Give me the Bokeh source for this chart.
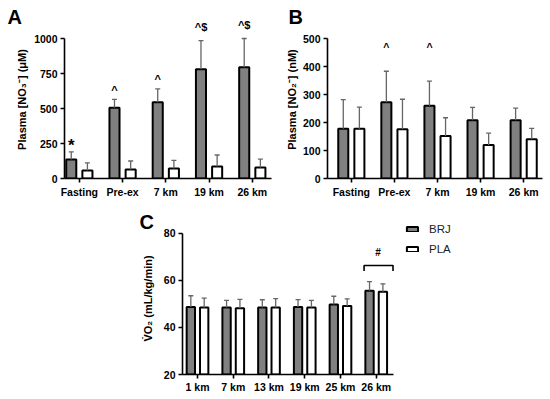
import numpy as np
from bokeh.plotting import figure
from bokeh.models import (ColumnDataSource, Whisker, TeeHead, FixedTicker,
                          Legend, LegendItem, Spacer, Range1d)
from bokeh.layouts import row, column
from bokeh.core.properties import value
from bokeh.embed import file_html
from bokeh.resources import INLINE

# ---------------- data ----------------
a_cats = ["Fasting", "Pre-ex", "7 km", "19 km", "26 km"]
a_brj = [135, 505, 545, 780, 795]
a_brj_sd = [55, 60, 95, 205, 205]
a_pla = [58, 65, 72, 85, 78]
a_pla_sd = [54, 60, 58, 83, 60]
a_sig = ["*", "^", "^", "^$", "^$"]
a_yticks = [0, 250, 500, 750, 1000]

b_cats = ["Fasting", "Pre-ex", "7 km", "19 km", "26 km"]
b_brj = [178, 272, 260, 208, 208]
b_brj_sd = [104, 111, 88, 46, 43]
b_pla = [178, 176, 152, 120, 140]
b_pla_sd = [77, 107, 65, 42, 39]
b_sig = ["", "^", "^", "", ""]
b_sig_level = 468
b_yticks = [0, 100, 200, 300, 400, 500]

c_cats = ["1 km", "7 km", "13 km", "19 km", "25 km", "26 km"]
c_brj = [48.7, 48.5, 48.5, 48.7, 49.8, 55.6]
c_brj_sd = [4.8, 3.0, 3.3, 3.2, 3.5, 3.9]
c_pla = [48.5, 48.2, 48.5, 48.5, 49.2, 55.2]
c_pla_sd = [4.0, 3.8, 3.8, 3.0, 3.0, 3.4]
c_sig_cat = 5
c_sig_text = "#"
c_yticks = [20, 40, 60, 80]

series_names = ["BRJ", "PLA"]

# ---------------- style ----------------
FONT = "Liberation Sans"
GRAY = "#808080"
ERR = "#666666"
OFF = 0.187
W = 0.233


def panel(cats, brj, brj_sd, pla, pla_sd, xr, yr, yticks, xbounds, ybounds, ylabel,
          fw, fh, borders, ylabel_std, letter, letter_dx, letter_standoff):
    p = figure(frame_width=fw, frame_height=fh, x_range=Range1d(*xr), y_range=Range1d(*yr),
               output_backend="svg", toolbar_location=None, title=letter)
    p.min_border_left, p.min_border_right, p.min_border_top, p.min_border_bottom = borders
    p.title.align = "left"
    p.title.offset = letter_dx
    p.title.standoff = letter_standoff
    p.title.vertical_align = "bottom"
    p.title.text_font = FONT
    p.title.text_font_style = "bold"
    p.title.text_font_size = "20px"
    p.title.text_color = "black"
    p.grid.visible = False
    p.outline_line_color = None
    p.background_fill_color = "white"
    p.border_fill_color = "white"
    n = len(cats)
    idx = np.arange(n)
    sb = ColumnDataSource(dict(x=idx - OFF, top=brj, up=np.add(brj, brj_sd)))
    sp = ColumnDataSource(dict(x=idx + OFF, top=pla, up=np.add(pla, pla_sd)))
    for s in (sb, sp):
        p.add_layout(Whisker(source=s, base="x", lower="top", upper="up",
                             line_color=ERR, line_width=1.3,
                             upper_head=TeeHead(size=5, line_color=ERR, line_width=1.3),
                             lower_head=None, level="glyph"))
    rb = p.vbar(x="x", top="top", bottom=yr[0], width=W, source=sb,
                fill_color=GRAY, line_color="black", line_width=2)
    rp = p.vbar(x="x", top="top", bottom=yr[0], width=W, source=sp,
                fill_color="white", line_color="black", line_width=2)

    p.xaxis.ticker = FixedTicker(ticks=list(range(n)))
    p.xaxis.major_label_overrides = {i: c for i, c in enumerate(cats)}
    p.xaxis.bounds = xbounds
    p.yaxis.ticker = FixedTicker(ticks=yticks)
    p.yaxis.bounds = ybounds
    p.yaxis.axis_label = ylabel
    p.yaxis.axis_label_standoff = ylabel_std
    for ax in (p.xaxis[0], p.yaxis[0]):
        ax.axis_line_width = 1.6
        ax.axis_line_color = "black"
        ax.major_tick_line_width = 1.6
        ax.major_tick_out = 4
        ax.major_tick_in = 0
        ax.minor_tick_out = 0
        ax.minor_tick_in = 0
        ax.major_label_text_font = FONT
        ax.major_label_text_font_style = "bold"
        ax.major_label_text_font_size = "10.5px"
        ax.major_label_text_color = "black"
        ax.major_label_standoff = 3
        ax.axis_label_text_font = FONT
        ax.axis_label_text_font_style = "bold"
        ax.axis_label_text_font_size = "11px"
        ax.axis_label_text_color = "black"
    return p, rb, rp


def sig_text(p, xs, ys, texts, size):
    p.text(x=xs, y=ys, text=texts, text_font=value(FONT), text_font_style="bold",
           text_font_size=size, text_align="center", text_baseline="middle",
           text_color="black")


# ---------------- panel A ----------------
pA, _, _ = panel(a_cats, a_brj, a_brj_sd, a_pla, a_pla_sd,
                 (-0.343, 4.444), (0, 1128.6), a_yticks, (-0.343, 4.444), (0, 1000),
                 "Plasma [NO\u2083\u207b] (\u03bcM)", 207, 158, (64, 4, 20, 22), 3,
                 "A", -57, -14)
a_x = np.arange(len(a_cats)) - OFF
a_err_top = np.add(a_brj, a_brj_sd)
for sym, pad, size in (("*", 48, "17px"), ("^", 70, "11px"), ("^$", 100, "11px")):
    ii = [i for i, s in enumerate(a_sig) if s == sym]
    sig_text(pA, a_x[ii], a_err_top[ii] + pad, [a_sig[i] for i in ii], size)

# ---------------- panel B ----------------
pB, _, _ = panel(b_cats, b_brj, b_brj_sd, b_pla, b_pla_sd,
                 (-0.553, 4.437), (0, 564.3), b_yticks, (-0.553, 4.437), (0, 500),
                 "Plasma [NO\u2082\u207b] (nM)", 215, 158, (52, 4, 20, 22), 2,
                 "B", -39, -14)
b_idx = [i for i, s in enumerate(b_sig) if s]
sig_text(pB, np.arange(len(b_cats))[b_idx] - OFF, [b_sig_level] * len(b_idx),
         [b_sig[i] for i in b_idx], "10.5px")

# ---------------- panel C ----------------
c_xmax = 5.47
pC, rb, rp = panel(c_cats, c_brj, c_brj_sd, c_pla, c_pla_sd,
                   (-0.42, 7.358), (20, 84.68), c_yticks, (-0.42, c_xmax), (20, 80),
                   "V\u0307O\u2082 (mL/kg/min)", 278, 152, (52, 4, 22, 22), 7,
                   "C", -43, -20)
pC.xaxis.major_label_standoff = 2
c_top = max(c_brj[c_sig_cat] + c_brj_sd[c_sig_cat], c_pla[c_sig_cat] + c_pla_sd[c_sig_cat])
br_y = c_top + 6.9
br_x0 = c_sig_cat - 0.34
br_x1 = c_sig_cat + 0.47
pC.multi_line(xs=[[br_x0, br_x0, br_x1, br_x1]], ys=[[br_y - 2.4, br_y, br_y, br_y - 2.4]],
              line_color="black", line_width=1.6)
sig_text(pC, [c_sig_cat + 0.05], [br_y + 5.5], [c_sig_text], "10px")

legend = Legend(items=[LegendItem(label=series_names[0], renderers=[rb]),
                       LegendItem(label=series_names[1], renderers=[rp])],
                location=(223, 119), padding=0, margin=0, spacing=8,
                glyph_width=14, glyph_height=6, label_height=12, label_standoff=10,
                label_text_font=FONT, label_text_font_size="11.5px",
                label_text_color="#222222",
                border_line_alpha=0, background_fill_alpha=0)
pC.add_layout(legend)

layout = column(row(pA, pB), row(Spacer(width=130, height=10), pC))

open("out.html", "w").write(file_html(layout, INLINE))
